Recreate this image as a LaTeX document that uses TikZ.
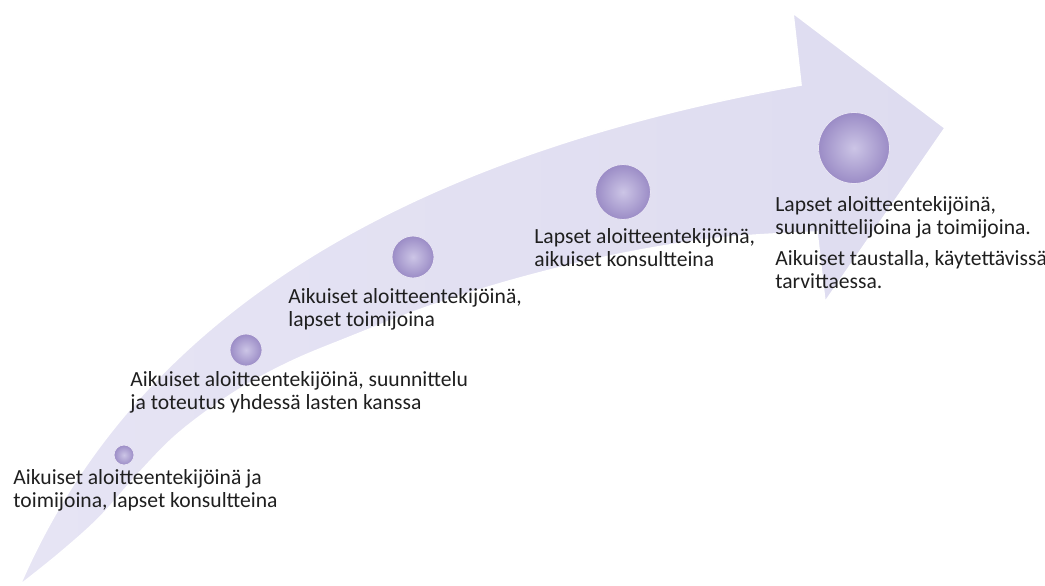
\documentclass[tikz,border=0pt]{standalone}
\usepackage{fontspec}
\setmainfont{Carlito}
\definecolor{bandfill}{RGB}{222,220,240}
\definecolor{bandlight}{RGB}{230,228,244}
\definecolor{ballin}{RGB}{204,197,230}
\definecolor{ballout}{RGB}{155,140,198}
\begin{document}
\begin{tikzpicture}[
    x=0.5pt,
    y=-0.5pt,
    font=\fontsize{10.8}{11.25}\selectfont,
    stage/.style={
        circle,
        inner sep=0pt,
        draw=white!55!ballin,
        line width=0.4pt,
        inner color=ballin,
        outer color=ballout
    },
    caption/.style={
        anchor=base west,
        align=left,
        inner sep=0pt,
        text=black!88
    }]

\useasboundingbox (0,0) rectangle (1045,585);

% Nuoli
\shadedraw[left color=bandlight, right color=bandfill, draw=white, line width=0.8pt]
(20,585) .. controls (130,330) and (380,160) .. (801,85)
-- (793,13) -- (945,128) -- (825,302) -- (817,232)
-- plot[smooth, tension=0.6] coordinates {
    (817,232) (720,238) (620,254) (520,278) (430,306) (350,337)
    (290,362) (235,392) (180,432) (140,472) (100,517) (60,553) (20,585)}
-- cycle;


% Pallot
\node[stage, minimum size=10pt] (s1) at (124,455) {};
\node[stage, minimum size=16pt] (s2) at (246,350) {};
\node[stage, minimum size=21pt] (s3) at (413,257) {};
\node[stage, minimum size=27.5pt] (s4) at (623,192) {};
\node[stage, minimum size=35.5pt] (s5) at (854,148) {};


% Tekstit (ankkuri = viimeisen rivin pohjaviiva)
\node[caption] (t1) at (13,507)
{Aikuiset aloitteentekijöinä ja\\
toimijoina, lapset konsultteina};

\node[caption] (t2) at (130,409)
{Aikuiset aloitteentekijöinä, suunnittelu\\
ja toteutus yhdessä lasten kanssa};

\node[caption] (t3) at (288,326)
{Aikuiset aloitteentekijöinä,\\
lapset toimijoina};

\node[caption] (t4) at (534,266)
{Lapset aloitteentekijöinä,\\
aikuiset konsultteina};

\node[caption] (t5) at (775,288)
{Lapset aloitteentekijöinä,\\
suunnittelijoina ja toimijoina.\\[4.5pt]
Aikuiset taustalla, käytettävissä\\
tarvittaessa.};

\end{tikzpicture}
\end{document}
